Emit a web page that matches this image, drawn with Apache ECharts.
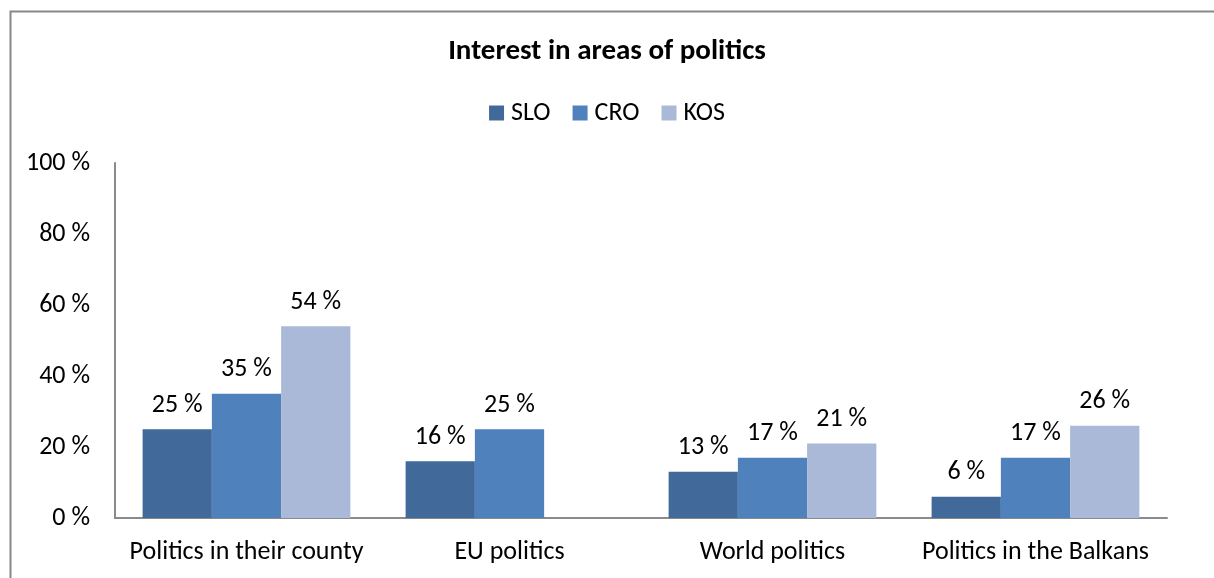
<!DOCTYPE html>
<html>
<head>
<meta charset="utf-8">
<title>Interest in areas of politics</title>
<script src="https://cdn.jsdelivr.net/npm/echarts@6/dist/echarts.min.js"></script>
<style>
  html, body { margin: 0; padding: 0; background: #ffffff; }
  #chart { width: 1214px; height: 578px; }
</style>
</head>
<body>
<div id="chart"></div>
<script>
// Survey results: share of respondents interested in each area (%)
const categories = ['Politics in their county', 'EU politics', 'World politics', 'Politics in the Balkans'];
const seriesNames = ['SLO', 'CRO', 'KOS'];
const sloValues = [25, 16, 13, 6];
const croValues = [35, 25, 17, 17];
const kosValues = [54, null, 21, 26];   // no KOS figure for EU politics
const yTicks = [0, 20, 40, 60, 80, 100];

const colors = ['#416a9b', '#4f81bd', '#aab9d7'];
const font = 'Carlito, Lato, "Liberation Sans", sans-serif';
const axisGray = '#8a8a8a';

const chart = echarts.init(document.getElementById('chart'), null, { renderer: 'canvas' });

function barSeries(name, values, color) {
  return {
    name: name,
    type: 'bar',
    data: values,
    barGap: '0%',
    barCategoryGap: '21%',
    itemStyle: { color: color },
    label: {
      show: true,
      position: 'top',
      distance: 11,
      color: '#000',
      fontFamily: font,
      fontSize: 26,
      formatter: p => p.value + ' %'
    },
    emphasis: { disabled: true }
  };
}

chart.setOption({
  animation: false,
  backgroundColor: '#ffffff',
  textStyle: { fontFamily: font },
  graphic: [{
    type: 'rect',
    left: 8, top: 9,
    shape: { width: 1400, height: 800 },
    style: { fill: 'none', stroke: '#888888', lineWidth: 2 },
    silent: true
  }],
  title: {
    text: 'Interest in areas of politics',
    left: 'center',
    top: 32,
    textStyle: { fontFamily: font, fontSize: 29, fontWeight: 'bold', color: '#000' }
  },
  legend: {
    data: seriesNames,
    left: 'center',
    top: 95,
    icon: 'rect',
    itemWidth: 15,
    itemHeight: 15,
    itemGap: 22,
    textStyle: { fontFamily: font, fontSize: 26, color: '#000', padding: [0, 0, 0, 2] }
  },
  grid: { left: 115, top: 163, bottom: 60, width: 1052, containLabel: false },
  xAxis: {
    type: 'category',
    data: categories,
    axisLine: { lineStyle: { color: axisGray, width: 2 } },
    axisTick: { show: false },
    axisLabel: { color: '#000', fontFamily: font, fontSize: 26, margin: 21, interval: 0 }
  },
  yAxis: {
    type: 'value',
    min: yTicks[0],
    max: yTicks[yTicks.length - 1],
    interval: yTicks[1] - yTicks[0],
    axisLine: { show: true, lineStyle: { color: axisGray, width: 2 } },
    axisTick: { show: false },
    splitLine: { show: false },
    axisLabel: { color: '#000', fontFamily: font, fontSize: 26, margin: 25, formatter: '{value} %' }
  },
  series: [
    barSeries(seriesNames[0], sloValues, colors[0]),
    barSeries(seriesNames[1], croValues, colors[1]),
    barSeries(seriesNames[2], kosValues, colors[2])
  ]
});
</script>
</body>
</html>
